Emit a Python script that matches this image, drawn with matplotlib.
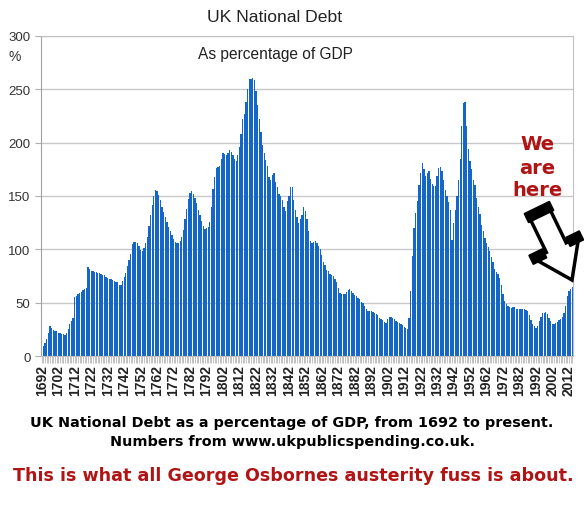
import numpy as np
import matplotlib.pyplot as plt
from matplotlib.patches import Polygon

# UK national debt, % of GDP, one value per year from 1692
first_year = 1692
debt = [
    6, 9, 12, 16, 22, 28, 26, 24, 23, 23,                 # 1692-1701
    22, 22, 21, 21, 20, 22, 25, 30, 33, 36,               # 1702-1711
    55, 56, 58, 59, 60, 62, 63, 64, 83, 82,               # 1712-1721
    80, 80, 79, 79, 78, 78, 77, 76, 76, 74,               # 1722-1731
    73, 72, 72, 71, 70, 69, 69, 67, 67, 70,               # 1732-1741
    74, 78, 84, 90, 96, 105, 107, 107, 106, 103,          # 1742-1751
    99, 98, 101, 106, 112, 122, 132, 142, 150, 156,       # 1752-1761
    155, 151, 146, 140, 135, 130, 126, 121, 117, 113,     # 1762-1771
    110, 107, 106, 106, 108, 112, 118, 128, 138, 147,     # 1772-1781
    153, 155, 152, 148, 143, 137, 132, 127, 122, 119,     # 1782-1791
    120, 121, 126, 140, 157, 168, 176, 177, 178, 185,     # 1792-1801
    190, 189, 188, 190, 193, 191, 188, 185, 183, 188,     # 1802-1811
    196, 208, 222, 227, 238, 250, 260, 260, 261, 259,     # 1812-1821
    248, 235, 222, 210, 198, 190, 184, 178, 168, 165,     # 1822-1831
    170, 172, 163, 158, 152, 150, 146, 140, 136, 145,     # 1832-1841
    150, 158, 158, 146, 137, 130, 125, 128, 132, 140,     # 1842-1851
    136, 128, 117, 108, 106, 107, 108, 106, 103, 100,     # 1852-1861
    95, 88, 85, 81, 80, 77, 76, 75, 72, 69,               # 1862-1871
    64, 59, 58, 58, 58, 60, 62, 63, 61, 59,               # 1872-1881
    57, 56, 54, 53, 51, 50, 47, 44, 42, 42,               # 1882-1891
    42, 41, 40, 39, 38, 36, 35, 34, 32, 31,               # 1892-1901
    35, 37, 37, 36, 35, 33, 32, 31, 30, 29,               # 1902-1911
    27, 26, 25, 36, 61, 94, 120, 134, 145, 160,           # 1912-1921
    172, 181, 175, 169, 172, 173, 166, 161, 159, 159,     # 1922-1931
    169, 176, 177, 173, 165, 156, 150, 144, 137, 109,     # 1932-1941
    125, 137, 150, 165, 185, 216, 237, 238, 216, 194,     # 1942-1951
    183, 175, 165, 160, 148, 140, 133, 123, 117, 111,     # 1952-1961
    106, 102, 98, 93, 88, 82, 79, 77, 73, 67,             # 1962-1971
    58, 52, 49, 47, 46, 45, 46, 46, 44, 44,               # 1972-1981
    44, 44, 44, 44, 43, 42, 38, 34, 30, 28,               # 1982-1991
    26, 28, 33, 37, 40, 40, 41, 39, 36, 33,               # 1992-2001
    30, 30, 31, 32, 34, 35, 37, 40, 47, 56,               # 2002-2011
    61, 63, 65,                                           # 2012-2014
]
years = np.arange(first_year, first_year + len(debt))
label_years = np.arange(1692, 2013, 10)
y_ticks = [0, 50, 100, 150, 200, 250, 300]

W, H = 584, 506
fig = plt.figure(figsize=(W / 100, H / 100), dpi=100)
plt.rcParams['font.family'] = 'Liberation Sans'

ax = fig.add_axes([41 / W, 1 - 357 / H, 532 / W, 320 / H])
ax.bar(years, debt, width=0.82, color='#1566c9', zorder=2)
ax.set_xlim(first_year - 0.5, years[-1] + 0.5)
ax.set_ylim(0, 300)
ax.set_yticks(y_ticks)
ax.tick_params(axis='y', labelsize=9.5, colors='#333333', length=4, width=0.8)
ax.tick_params(axis='y', color='#b0b0b0')
ax.grid(axis='y', color='#c8c8c8', lw=1, zorder=0)
ax.set_xticks(label_years)
ax.set_xticklabels([str(y) for y in label_years], rotation=90,
                   fontsize=10, fontweight='bold', color='#222222')
ax.set_xticks(years, minor=True)
ax.tick_params(axis='x', which='both', length=5, width=0.6, color='#b8b8b8', pad=1)
for s in ax.spines.values():
    s.set_color('#c0c0c0')
ax.spines['left'].set_color('#a0a0a0')

def fx(x):
    return x / W

def fy(y):
    return 1 - y / H

fig.text(fx(275), fy(17), 'UK National Debt', ha='center', va='center', fontsize=12.6, color='#222222')
fig.text(fx(15), fy(57), '%', ha='center', va='center', fontsize=10, color='#333333')
fig.text(fx(275), fy(55), 'As percentage of GDP', ha='center', va='center', fontsize=11.2, color='#222222')

fig.text(fx(292), fy(423), 'UK National Debt as a percentage of GDP, from 1692 to present.',
         ha='center', va='center', fontsize=10.4, fontweight='bold', family='DejaVu Sans')
fig.text(fx(292), fy(442), 'Numbers from www.ukpublicspending.co.uk.',
         ha='center', va='center', fontsize=10.4, fontweight='bold', family='DejaVu Sans')
fig.text(fx(293), fy(476), 'This is what all George Osbornes austerity fuss is about.',
         ha='center', va='center', fontsize=12.6, fontweight='bold', family='DejaVu Sans', color='#b01414')

for txt, yy in [('We', 145), ('are', 168), ('here', 191)]:
    fig.text(fx(537), fy(yy), txt, ha='center', va='center', fontsize=14,
             fontweight='bold', family='DejaVu Sans', color='#b01414')

# hollow arrow pointing at the last bar, built in pixel units
tail = np.array([539.0, 213.0])
tip = np.array([572.0, 281.0])
d = (tip - tail) / np.linalg.norm(tip - tail)
n = np.array([-d[1], d[0]])
L = np.linalg.norm(tip - tail)
hl, sw, hw = 36, 11, 25

def pts(uv):
    out = []
    for u, v in uv:
        p = tail + u * d + v * n
        out.append((fx(p[0]), fy(p[1])))
    return out

arrow = [(0, -sw), (0, sw), (L - hl, sw), (L - hl, hw), (L, 0), (L - hl, -hw), (L - hl, -sw)]
fig.add_artist(Polygon(pts(arrow), closed=True, facecolor='white', edgecolor='black',
                       lw=2.5, joinstyle='miter', transform=fig.transFigure))
blocks = [
    [(-5, -14), (-5, 14), (5, 14), (5, -14)],
    [(L - hl - 5, sw + 2), (L - hl - 5, hw + 3), (L - hl + 5, hw + 3), (L - hl + 5, sw + 2)],
    [(L - hl - 5, -sw - 2), (L - hl - 5, -hw - 3), (L - hl + 5, -hw - 3), (L - hl + 5, -sw - 2)],
]
for b in blocks:
    fig.add_artist(Polygon(pts(b), closed=True, facecolor='black', edgecolor='black',
                           lw=1, transform=fig.transFigure))

fig.savefig('out.png', dpi=100)
